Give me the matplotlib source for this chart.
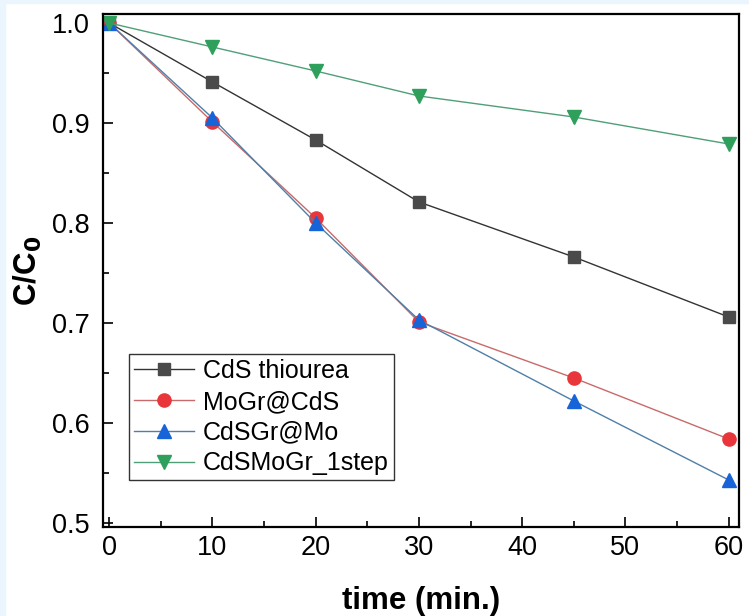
import matplotlib
matplotlib.use("Agg")
import matplotlib.pyplot as plt
from matplotlib.ticker import MultipleLocator

plt.rcParams['font.family'] = ['Liberation Sans', 'DejaVu Sans']

time_min = [0, 10, 20, 30, 45, 60]
cds_thiourea = [1.0, 0.941, 0.883, 0.821, 0.766, 0.706]
mogr_cds = [1.0, 0.901, 0.805, 0.701, 0.645, 0.584]
cdsgr_mo = [1.0, 0.905, 0.800, 0.703, 0.622, 0.543]
cdsmogr_1step = [1.0, 0.976, 0.952, 0.927, 0.906, 0.879]
y_ticks = [0.5, 0.6, 0.7, 0.8, 0.9, 1.0]
y_tick_labels = ["0.5", "0.6", "0.7", "0.8", "0.9", "1.0"]

series = [
    ("CdS thiourea", cds_thiourea, "s", "#4a4a4a", "#333333", 8.5),
    ("MoGr@CdS", mogr_cds, "o", "#e8363b", "#c86a6a", 9.5),
    ("CdSGr@Mo", cdsgr_mo, "^", "#1763d8", "#4f7fa8", 10),
    ("CdSMoGr_1step", cdsmogr_1step, "v", "#2f9f5c", "#4f9f78", 10),
]

fig = plt.figure(figsize=(7.49, 6.16), dpi=100)
fig.patch.set_facecolor("white")
# pale frame strip on the top and left edges
fig.patches.append(plt.Rectangle((0, 0.995), 1, 0.005, transform=fig.transFigure,
                                 color="#eaf5fd", zorder=-1))
fig.patches.append(plt.Rectangle((0, 0), 0.007, 1, transform=fig.transFigure,
                                 color="#eaf5fd", zorder=-1))

ax = fig.add_axes([0.1375, 0.1445, 0.8492, 0.8328])
for label, vals, mk, mc, lc, ms in series:
    ax.plot(time_min, vals, color=lc, linewidth=1.0, marker=mk, markersize=ms,
            markerfacecolor=mc, markeredgecolor=mc, label=label)

ax.set_xlim(-0.6, 61)
ax.set_ylim(0.496, 1.009)
ax.xaxis.set_major_locator(MultipleLocator(10))
ax.xaxis.set_minor_locator(MultipleLocator(5))
ax.yaxis.set_minor_locator(MultipleLocator(0.05))
ax.set_yticks(y_ticks)
ax.set_yticklabels(y_tick_labels)
ax.tick_params(which="both", direction="in", top=False, right=False,
               labelsize=19.5, width=1.2)
ax.tick_params(which="major", length=7)
ax.tick_params(which="minor", length=4)
ax.tick_params(axis="y", which="major", pad=9.5)
ax.tick_params(axis="x", which="major", pad=6)
for sp in ax.spines.values():
    sp.set_linewidth(1.6)

ax.set_xlabel("time (min.)", fontsize=22.5, fontweight="bold", labelpad=18)
ax.set_ylabel(r"C/C$_\mathbf{0}$", fontsize=22.5, fontweight="bold", labelpad=6)

leg = ax.legend(loc="upper left", bbox_to_anchor=(0.041, 0.337), fontsize=18,
                frameon=True, fancybox=False, edgecolor="black",
                labelspacing=0.27, handlelength=2.4, handletextpad=0.35,
                borderpad=0.2, borderaxespad=0)
leg.get_frame().set_linewidth(1.0)

fig.savefig("out.png", dpi=100)
